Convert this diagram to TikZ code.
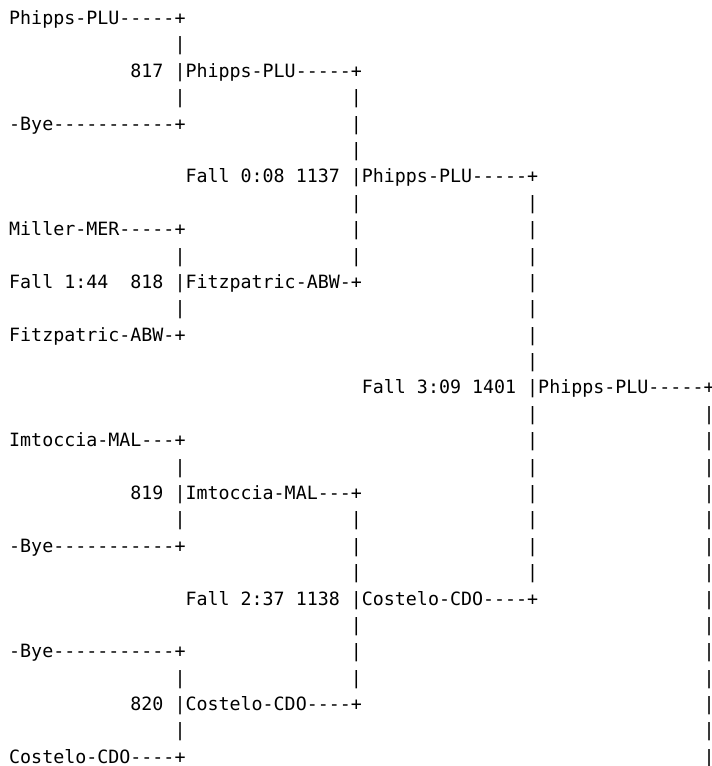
\documentclass[tikz,border=0pt]{standalone}
\usepackage{fontspec}
\setmonofont{DejaVu Sans Mono}
\begin{document}
\begin{tikzpicture}[
    x=8.266pt, y=-19.79pt,
    every node/.style={inner sep=0pt, outer sep=0pt, anchor=base west},
    cell/.style={font=\ttfamily\fontsize{13.73pt}{19.79pt}\selectfont},
    entrant/.style={cell},
    winner/.style={cell},
    result/.style={cell},
    bar/.style={cell}
  ]
    \fill[white] (-6.9pt,18.4pt) rectangle (526.35pt,-556.1pt);
    \useasboundingbox (-6.9pt,18.4pt) rectangle (526.35pt,-556.1pt);

    \node[entrant] (e1) at (0,0)  {Phipps-PLU-----+};
    \node[entrant] (e2) at (0,4)  {-Bye-----------+};
    \node[entrant] (e3) at (0,8)  {Miller-MER-----+};
    \node[entrant] (e4) at (0,12) {Fitzpatric-ABW-+};
    \node[entrant] (e5) at (0,16) {Imtoccia-MAL---+};
    \node[entrant] (e6) at (0,20) {-Bye-----------+};
    \node[entrant] (e7) at (0,24) {-Bye-----------+};
    \node[entrant] (e8) at (0,28) {Costelo-CDO----+};

    \node[result] (m817) at (11,2)  {817};
    \node[result] (m818) at (11,10) {818};
    \node[result] (f818) at (0,10)  {Fall 1:44};
    \node[result] (m819) at (11,18) {819};
    \node[result] (m820) at (11,26) {820};

    \node[winner] (w817) at (16,2)  {Phipps-PLU-----+};
    \node[winner] (w818) at (16,10) {Fitzpatric-ABW-+};
    \node[winner] (w819) at (16,18) {Imtoccia-MAL---+};
    \node[winner] (w820) at (16,26) {Costelo-CDO----+};

    \node[result] (m1137) at (16,6)  {Fall 0:08 1137};
    \node[result] (m1138) at (16,22) {Fall 2:37 1138};
    \node[winner] (w1137) at (32,6)  {Phipps-PLU-----+};
    \node[winner] (w1138) at (32,22) {Costelo-CDO----+};

    \node[result] (m1401) at (32,14) {Fall 3:09 1401};
    \node[winner] (w1401) at (48,14) {Phipps-PLU-----+};

    \foreach \r in {1,2,3,9,10,11,17,18,19,25,26,27}
      \node[bar] (b15-\r) at (15,\r) {|};
    \foreach \r in {3,...,9,19,20,...,25}
      \node[bar] (b31-\r) at (31,\r) {|};
    \foreach \r in {7,...,21}
      \node[bar] (b47-\r) at (47,\r) {|};
    \foreach \r in {15,...,28}
      \node[bar] (b63-\r) at (63,\r) {|};
\end{tikzpicture}
\end{document}
